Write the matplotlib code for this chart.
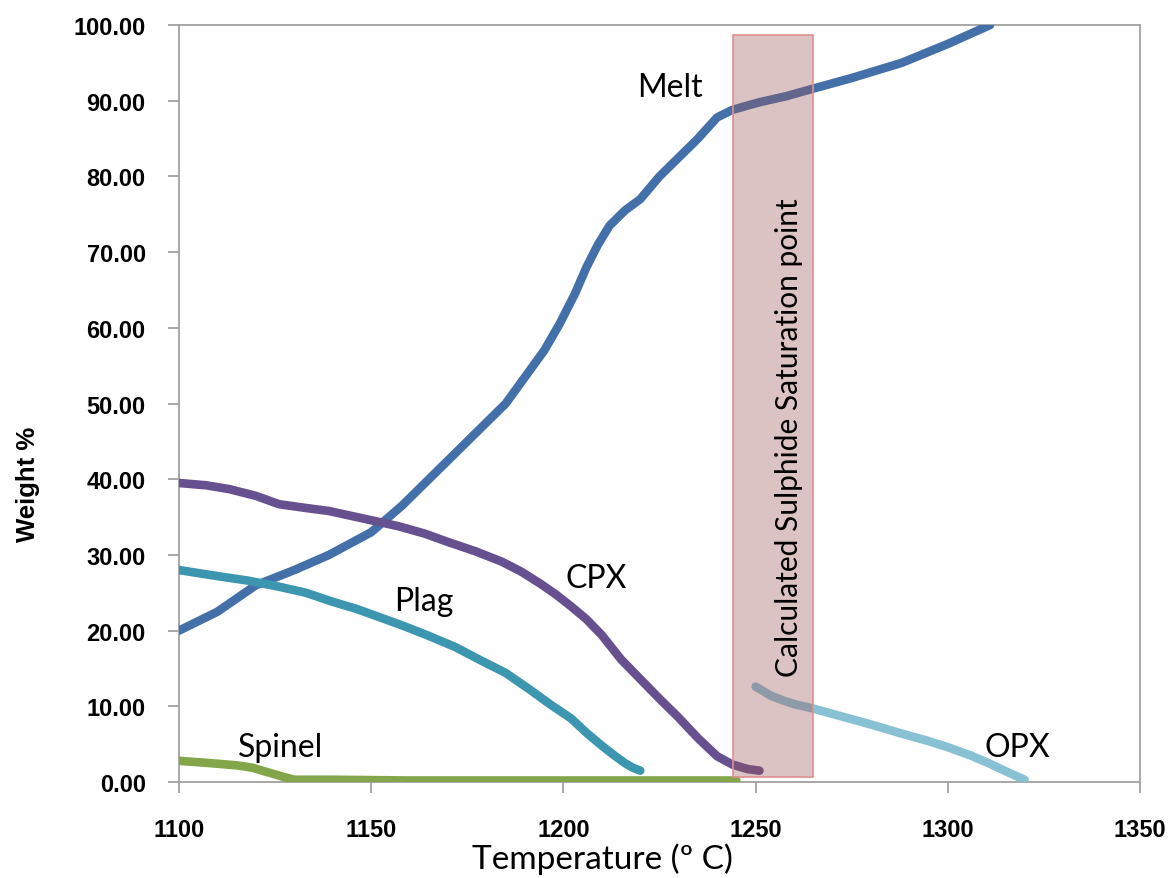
import matplotlib
matplotlib.use("Agg")
import matplotlib.pyplot as plt
from matplotlib.patches import Rectangle

# ---- data ----
melt_T = [1100, 1110, 1120, 1130, 1139, 1150, 1158, 1165, 1172, 1178, 1185, 1190, 1195, 1199,
          1203, 1206, 1209, 1212, 1216, 1220, 1225, 1230, 1235, 1240, 1244, 1251, 1258, 1265,
          1275, 1288, 1300, 1311]
melt_W = [20.0, 22.5, 26.0, 28.0, 30.0, 33.0, 36.5, 40.0, 43.5, 46.5, 50.0, 53.5, 57.0, 60.5,
          64.5, 68.0, 71.0, 73.5, 75.5, 77.0, 80.0, 82.5, 85.0, 87.8, 88.8, 89.8, 90.6, 91.6,
          93.0, 95.0, 97.5, 100.0]

cpx_T = [1100, 1107, 1113, 1120, 1126, 1133, 1139, 1148, 1157, 1164, 1170, 1177, 1184, 1189,
         1194, 1198, 1202, 1206, 1210, 1215, 1220, 1225, 1230, 1235, 1240, 1244, 1248, 1251]
cpx_W = [39.5, 39.2, 38.7, 37.8, 36.7, 36.2, 35.8, 34.8, 33.8, 32.8, 31.7, 30.5, 29.1, 27.8,
         26.2, 24.8, 23.2, 21.5, 19.4, 16.2, 13.6, 11.0, 8.5, 5.8, 3.4, 2.3, 1.7, 1.5]

plag_T = [1100, 1110, 1118, 1126, 1133, 1140, 1146, 1152, 1158, 1165, 1172, 1178, 1185, 1191,
          1197, 1202, 1206, 1210, 1213, 1216, 1218, 1220]
plag_W = [28.0, 27.2, 26.6, 25.8, 25.0, 23.8, 22.9, 21.8, 20.7, 19.3, 17.8, 16.2, 14.4, 12.3,
          10.1, 8.4, 6.5, 4.8, 3.6, 2.5, 1.9, 1.5]

spinel_T = [1100, 1108, 1115, 1119, 1123, 1127, 1130, 1140, 1160, 1180, 1200, 1220, 1235, 1245]
spinel_W = [2.8, 2.5, 2.2, 1.9, 1.3, 0.7, 0.3, 0.3, 0.2, 0.2, 0.2, 0.2, 0.2, 0.2]

opx_T = [1250, 1252, 1254, 1257, 1260, 1265, 1270, 1275, 1280, 1288, 1295, 1300, 1306, 1311,
         1316, 1320]
opx_W = [12.6, 12.0, 11.4, 10.8, 10.3, 9.7, 9.0, 8.3, 7.6, 6.4, 5.4, 4.6, 3.5, 2.4, 1.2, 0.3]

band_T = [1244, 1265]
band_W = [0.7, 98.7]

x_ticks = [1100, 1150, 1200, 1250, 1300, 1350]
y_ticks = [0, 10, 20, 30, 40, 50, 60, 70, 80, 90, 100]

# ---- figure ----
fig = plt.figure(figsize=(11.74, 8.79), dpi=100)
ax = fig.add_axes([0.1525, 0.1092, 0.8185, 0.8612])

lw = 6.2
ax.plot(melt_T, melt_W, color="#4470aa", lw=lw, solid_capstyle="round", zorder=3)
ax.plot(cpx_T, cpx_W, color="#675090", lw=lw, solid_capstyle="round", zorder=3)
ax.plot(plag_T, plag_W, color="#3c96b0", lw=lw, solid_capstyle="round", zorder=3)
ax.plot(spinel_T, spinel_W, color="#84a64a", lw=lw, solid_capstyle="round", zorder=3)
ax.plot(opx_T, opx_W, color="#88c0d4", lw=lw, solid_capstyle="round", zorder=3)

rect = Rectangle((band_T[0], band_W[0]), band_T[1] - band_T[0], band_W[1] - band_W[0],
                 facecolor=(0.61, 0.33, 0.33, 0.35), edgecolor="#e09090", lw=1.2, zorder=4)
ax.add_patch(rect)

ax.set_xlim(1100, 1350)
ax.set_ylim(0, 100)
ax.set_xticks(x_ticks)
ax.set_yticks(y_ticks)
ax.set_xticklabels([str(t) for t in x_ticks])
ax.set_yticklabels([f"{v:.2f}" for v in y_ticks])

for s in ax.spines.values():
    s.set_color("#a0a0a0")
    s.set_linewidth(1.3)

ax.tick_params(axis="both", direction="out", length=8, width=1.3, color="#a0a0a0")
ax.tick_params(axis="y", pad=16)
ax.tick_params(axis="x", pad=18)
for lab in ax.get_xticklabels() + ax.get_yticklabels():
    lab.set_fontfamily("Liberation Sans")
    lab.set_fontweight("bold")
    lab.set_fontsize(17)

ax.set_ylabel("Weight %", fontfamily="Liberation Sans", fontweight="bold", fontsize=18.5)
ax.yaxis.set_label_coords(-0.1446, 0.394)
ax.set_xlabel("Temperature (º C)", fontfamily="Lato", fontsize=24)
ax.xaxis.set_label_coords(0.441, -0.080)

tfont = dict(fontfamily="Lato", fontsize=23, ha="center", va="center", zorder=5)
ax.text(1227.7, 91.8, "Melt", **tfont)
ax.text(1208.5, 26.9, "CPX", **tfont)
ax.text(1163.7, 23.9, "Plag", **tfont)
ax.text(1126.5, 4.6, "Spinel", **tfont)
ax.text(1318.0, 4.6, "OPX", **tfont)
ax.text(1258.7, 45.6, "Calculated Sulphide Saturation point", rotation=90,
        fontfamily="Lato", fontsize=21.5, ha="center", va="center", zorder=5)

fig.savefig("out.png", dpi=100)
